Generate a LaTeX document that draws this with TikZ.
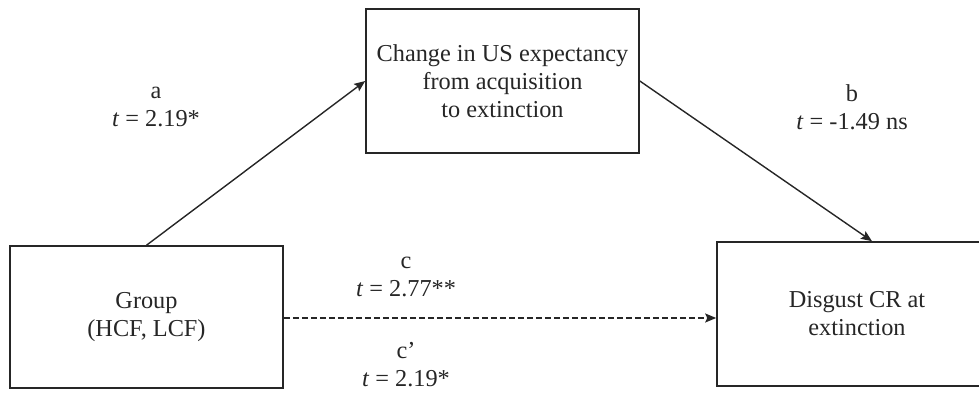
\documentclass[tikz,border=0pt]{standalone}
\usepackage{fontspec}
\setmainfont{Liberation Serif}
\usetikzlibrary{arrows.meta}
\definecolor{ink}{HTML}{262626}
\tikzset{
  box/.style={draw=ink, line width=1.6pt, rectangle, inner sep=0pt, align=center, text=ink},
  lbl/.style={align=center, text=ink, inner sep=0pt},
  conn/.style={draw=ink, line width=1.4pt, -{Stealth[length=11pt,width=9pt,inset=2pt]}},
}
\begin{document}
\begin{tikzpicture}[x=1pt,y=-1pt,font=\fontsize{24.3}{28}\selectfont]
\clip (0,0) rectangle (979,393);
\node[box, minimum width=273pt, minimum height=142pt] (grp) at (146.5,317) {Group\\(HCF, LCF)};
\node[box, minimum width=273pt, minimum height=144pt] (med) at (502.5,81) {Change in US expectancy\\from acquisition\\to extinction};
\node[box, minimum width=280pt, minimum height=144pt] (out) at (857,314) {Disgust CR at\\extinction};
\coordinate (bend) at ([xshift=15pt]out.north);
\draw[conn] (grp.north) -- (med.west);
\draw[conn] (med.east) -- (bend);
\draw[conn, dash pattern=on 6pt off 3pt] (grp.east |- 0,318) -- (out.west |- 0,318);
\node[lbl] (la) at (156,107) {a\\\textit{t} = 2.19*};
\node[lbl] (lb) at (852,107) {b\\\textit{t} = -1.49 ns};
\node[lbl] (lc) at (406,277) {c\\\textit{t} = 2.77**};
\node[lbl] (lcp) at (406,365) {c’\\\textit{t} = 2.19*};
\end{tikzpicture}
\end{document}
